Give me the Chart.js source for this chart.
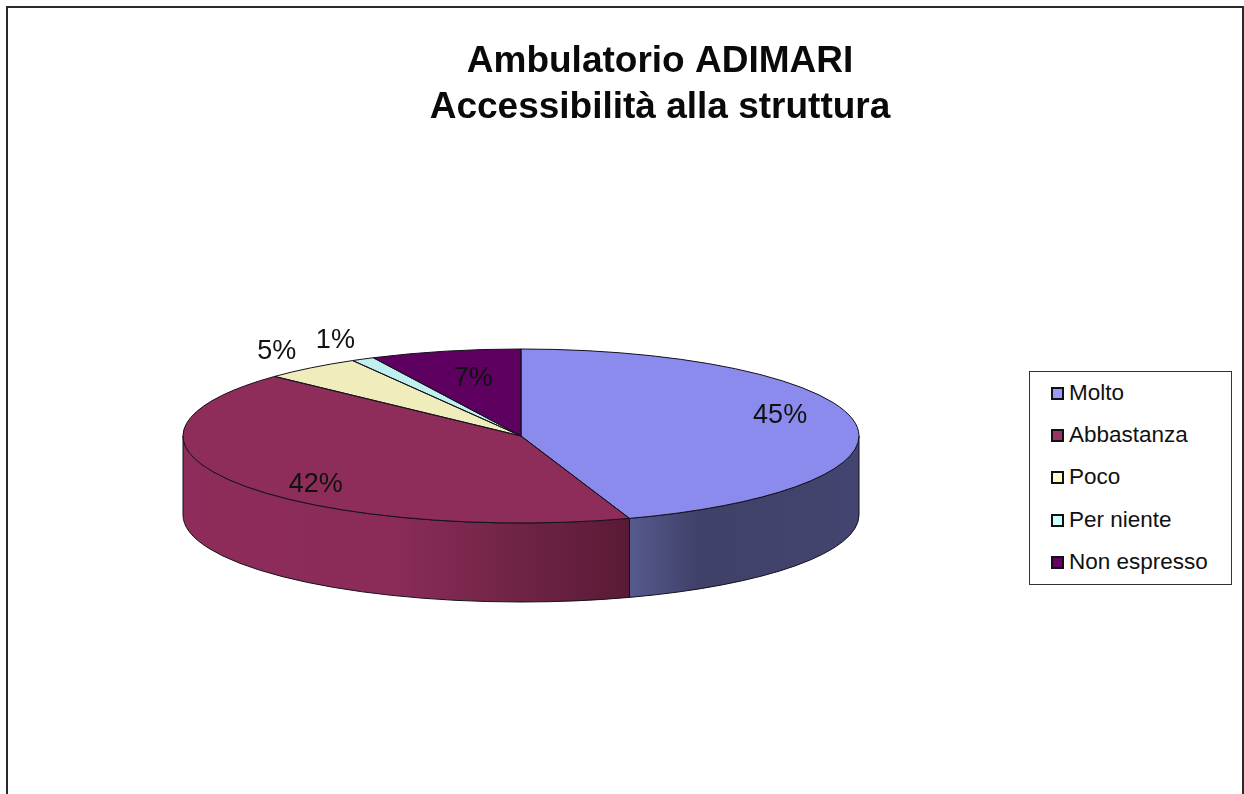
<!DOCTYPE html>
<html>
<head>
<meta charset="utf-8">
<title>Ambulatorio ADIMARI</title>
<script src="https://cdn.jsdelivr.net/npm/chart.js@4"></script>
<style>
html, body { margin: 0; padding: 0; background: #fff; overflow: hidden; }
#frame { position: absolute; left: 6px; top: 6px; width: 1234px; height: 820px; border: 2px solid #2a2a2a; }
#chart_box { position: absolute; left: 0; top: 0; width: 1244px; height: 794px; }
#legend { position: absolute; left: 1029px; top: 371px; width: 201px; height: 212px; border: 1px solid #333; background: #fff;
    font: 22.5px "Liberation Sans", Arial, sans-serif; color: #111; }
#legend div { position: absolute; left: 39px; line-height: 26px; white-space: nowrap; }
#legend i { position: absolute; left: -18px; top: 7px; width: 9px; height: 9px; border: 2px solid #111; }
</style>
</head>
<body>
<div id="frame"></div>
<div id="chart_box"><canvas id="pie_chart" width="1244" height="794"></canvas></div>
<div id="legend"></div>
<script>
const title_lines = ["Ambulatorio ADIMARI", "Accessibilità alla struttura"];
const categories = ["Molto", "Abbastanza", "Poco", "Per niente", "Non espresso"];
const values = [44.8, 42.2, 4.7, 1.1, 7.2];

const face_colors = ["#8B8BEE", "#8E2C5A", "#EFEDBB", "#BFEFEF", "#5E005F"];
const legend_colors = ["#9999FF", "#993366", "#FFFFCC", "#CCFFFF", "#660066"];
// left to right shading of the rim, only the two front slices show it
const side_stops = [
    [[0, "#565A8E"], [0.3, "#3F4168"], [1, "#434570"]],
    [[0, "#8E2C5A"], [0.48, "#8A2B58"], [0.7, "#742648"], [1, "#5A1A36"]],
    [], [], []
];
// label shift from the slice's 3/4 radius point
const label_shift = [[9, -10], [8, 13], [-87, -33], [-67, -38], [9, 6]];

const squash = 87 / 338;
const depth = 79;
const outline = "#15101c";

function slice_path(ctx, a) {
    const ry = a.outerRadius * squash;
    ctx.beginPath();
    ctx.moveTo(a.x, a.y);
    ctx.ellipse(a.x, a.y, a.outerRadius, ry, 0, a.startAngle, a.endAngle);
    ctx.closePath();
}

const tilt_plugin = {
    id: "tilt",
    afterLayout(chart) {
        // the title is centred on the whole plot, not on the pie
        chart.titleBlock.left += 139;
        chart.titleBlock.right += 139;
    },
    beforeDatasetsDraw(chart) {
        const ctx = chart.ctx;
        const arcs = chart.getDatasetMeta(0).data;
        arcs.forEach((arc, i) => {
            const a = arc.getProps(["x", "y", "startAngle", "endAngle", "outerRadius"]);
            const from = Math.max(a.startAngle, 0);
            const to = Math.min(a.endAngle, Math.PI);
            if (to <= from) return;
            const ry = a.outerRadius * squash;
            const x0 = a.x + a.outerRadius * Math.cos(to);
            const x1 = a.x + a.outerRadius * Math.cos(from);
            const grad = ctx.createLinearGradient(x0, 0, x1, 0);
            side_stops[i].forEach(s => grad.addColorStop(s[0], s[1]));
            ctx.save();
            ctx.beginPath();
            ctx.ellipse(a.x, a.y, a.outerRadius, ry, 0, from, to);
            ctx.ellipse(a.x, a.y + depth, a.outerRadius, ry, 0, to, from, true);
            ctx.closePath();
            ctx.fillStyle = grad;
            ctx.fill();
            ctx.strokeStyle = outline;
            ctx.lineWidth = 1;
            ctx.stroke();
            ctx.restore();
        });
        const first = arcs[0].getProps(["x", "y"]);
        ctx.save();
        ctx.translate(first.x, first.y);
        ctx.scale(1, squash);
        ctx.translate(-first.x, -first.y);
    },
    afterDatasetsDraw(chart) {
        const ctx = chart.ctx;
        ctx.restore();
        const arcs = chart.getDatasetMeta(0).data;
        ctx.save();
        ctx.strokeStyle = outline;
        ctx.lineWidth = 1;
        arcs.forEach(arc => {
            slice_path(ctx, arc.getProps(["x", "y", "startAngle", "endAngle", "outerRadius"]));
            ctx.stroke();
        });
        ctx.fillStyle = "#111";
        ctx.font = '27px "Liberation Sans", Arial, sans-serif';
        ctx.textAlign = "center";
        ctx.textBaseline = "middle";
        arcs.forEach((arc, i) => {
            const a = arc.getProps(["x", "y", "startAngle", "endAngle", "outerRadius"]);
            const mid = (a.startAngle + a.endAngle) / 2;
            const px = a.x + 0.75 * a.outerRadius * Math.cos(mid) + label_shift[i][0];
            const py = a.y + 0.75 * a.outerRadius * squash * Math.sin(mid) + label_shift[i][1];
            ctx.fillText(Math.round(values[i]) + "%", px, py);
        });
        ctx.restore();
    }
};

const legend_box = document.getElementById("legend");
categories.forEach((name, i) => {
    const row = document.createElement("div");
    row.style.top = (8 + i * 42.2) + "px";
    row.innerHTML = `<i style="background:${legend_colors[i]}"></i>${name}`;
    legend_box.appendChild(row);
});

new Chart(document.getElementById("pie_chart").getContext("2d"), {
    type: "pie",
    data: {
        labels: categories,
        datasets: [{
            data: values,
            backgroundColor: face_colors,
            borderWidth: 0,
            radius: 338
        }]
    },
    options: {
        responsive: false,
        animation: false,
        layout: { padding: { left: 0, right: 202, top: 0, bottom: 53 } },
        plugins: {
            legend: { display: false },
            tooltip: { enabled: false },
            title: {
                display: true,
                text: title_lines,
                color: "#0a0a0a",
                font: { family: '"Liberation Sans", Arial, sans-serif', size: 37, weight: "bold", lineHeight: 1.243 },
                padding: { top: 39, bottom: 0 }
            }
        }
    },
    plugins: [tilt_plugin]
});
</script>
</body>
</html>
